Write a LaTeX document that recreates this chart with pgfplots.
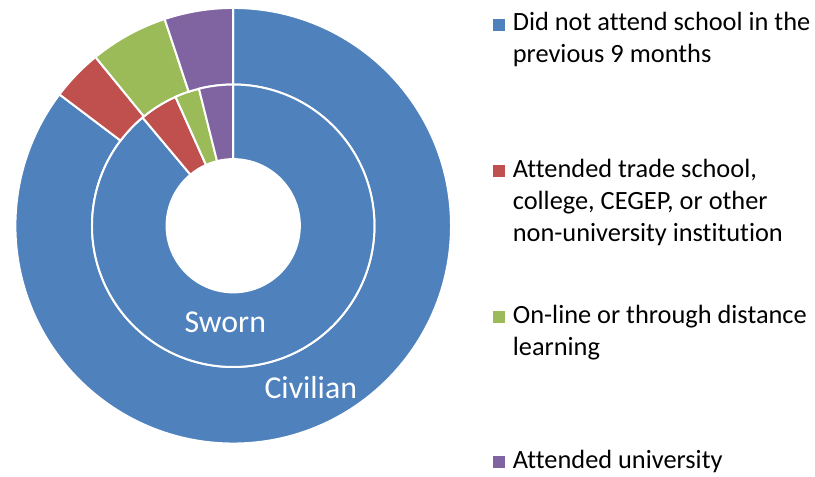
\documentclass[border=0pt]{standalone}
\usepackage{fontspec}
\setmainfont{Carlito}[Ligatures=CommonOff]
\usepackage{pgfplots}
\usepackage{pgfplotstable}
\pgfplotsset{compat=1.18}

\definecolor{c0}{HTML}{4F81BD}
\definecolor{c1}{HTML}{C0504D}
\definecolor{c2}{HTML}{9BBB59}
\definecolor{c3}{HTML}{8064A2}

% shares in percent, outer ring = Civilian, inner ring = Sworn
\pgfplotstableread{
category   civilian sworn
none       85.3     88.9
trade      3.8      4.4
online     5.8      2.8
university 5.1      3.9
}\schooldata

% annular sector: outer r, inner r, start angle, end angle, colour
\newcommand\sector[5]{%
  \fill[#5, draw=white, line width=2bp]
    (axis cs:{230+#1*cos(#3)},{252+#1*sin(#3)})
    arc[start angle=#3, end angle=#4, radius=#1bp]
    -- (axis cs:{230+#2*cos(#4)},{252+#2*sin(#4)})
    arc[start angle=#4, end angle=#3, radius=#2bp] -- cycle;}

\begin{document}
% cumulative angles, clockwise from the top
\def\cumC{0}\def\cumS{0}
\pgfplotsforeachungrouped \i in {0,1,2,3}{%
  \pgfplotstablegetelem{\i}{civilian}\of\schooldata
  \pgfmathsetmacro\tmpa{90-3.6*\cumC}%
  \pgfmathsetmacro\cumC{\cumC+\pgfplotsretval}%
  \pgfmathsetmacro\tmpb{90-3.6*\cumC}%
  \expandafter\xdef\csname cA\i\endcsname{\tmpa}%
  \expandafter\xdef\csname cB\i\endcsname{\tmpb}%
  \pgfplotstablegetelem{\i}{sworn}\of\schooldata
  \pgfmathsetmacro\tmpa{90-3.6*\cumS}%
  \pgfmathsetmacro\cumS{\cumS+\pgfplotsretval}%
  \pgfmathsetmacro\tmpb{90-3.6*\cumS}%
  \expandafter\xdef\csname sA\i\endcsname{\tmpa}%
  \expandafter\xdef\csname sB\i\endcsname{\tmpb}%
}
\begin{tikzpicture}
\begin{axis}[
    x=1bp, y=1bp,
    xmin=0, xmax=815, ymin=0, ymax=479,
    hide axis,
    clip=false,
]
\coordinate (ll) at (axis cs:0,0);
\coordinate (ur) at (axis cs:815,479);

\pgfplotsinvokeforeach{0,1,2,3}{
  \sector{219}{142}{\csname cA#1\endcsname}{\csname cB#1\endcsname}{c#1}
  \sector{142}{67}{\csname sA#1\endcsname}{\csname sB#1\endcsname}{c#1}
}

\node[white, anchor=base, inner sep=0, font=\fontsize{32bp}{38bp}\selectfont] at (axis cs:222,145) {Sworn};
\node[white, anchor=base, inner sep=0, font=\fontsize{32bp}{38bp}\selectfont] at (axis cs:308,78) {Civilian};

% legend
\fill[c0] (axis cs:491,448) rectangle (axis cs:503,460);
\fill[c1] (axis cs:491,301) rectangle (axis cs:503,313);
\fill[c2] (axis cs:491,154) rectangle (axis cs:503,166);
\fill[c3] (axis cs:491,8) rectangle (axis cs:503,20);
\begin{scope}[every node/.style={anchor=base west, inner sep=0, font=\fontsize{26.5bp}{32bp}\selectfont}]
\node at (axis cs:511,448) {Did not attend school in the};
\node at (axis cs:511,416) {previous 9 months};
\node at (axis cs:511,301) {Attended trade school,};
\node at (axis cs:511,268) {college, CEGEP, or other};
\node at (axis cs:511,236) {non-university institution};
\node at (axis cs:511,154) {On-line or through distance};
\node at (axis cs:511,122) {learning};
\node at (axis cs:511,8) {Attended university};
\end{scope}
\end{axis}
\pgfresetboundingbox
\useasboundingbox (ll) rectangle (ur);
\end{tikzpicture}
\end{document}
